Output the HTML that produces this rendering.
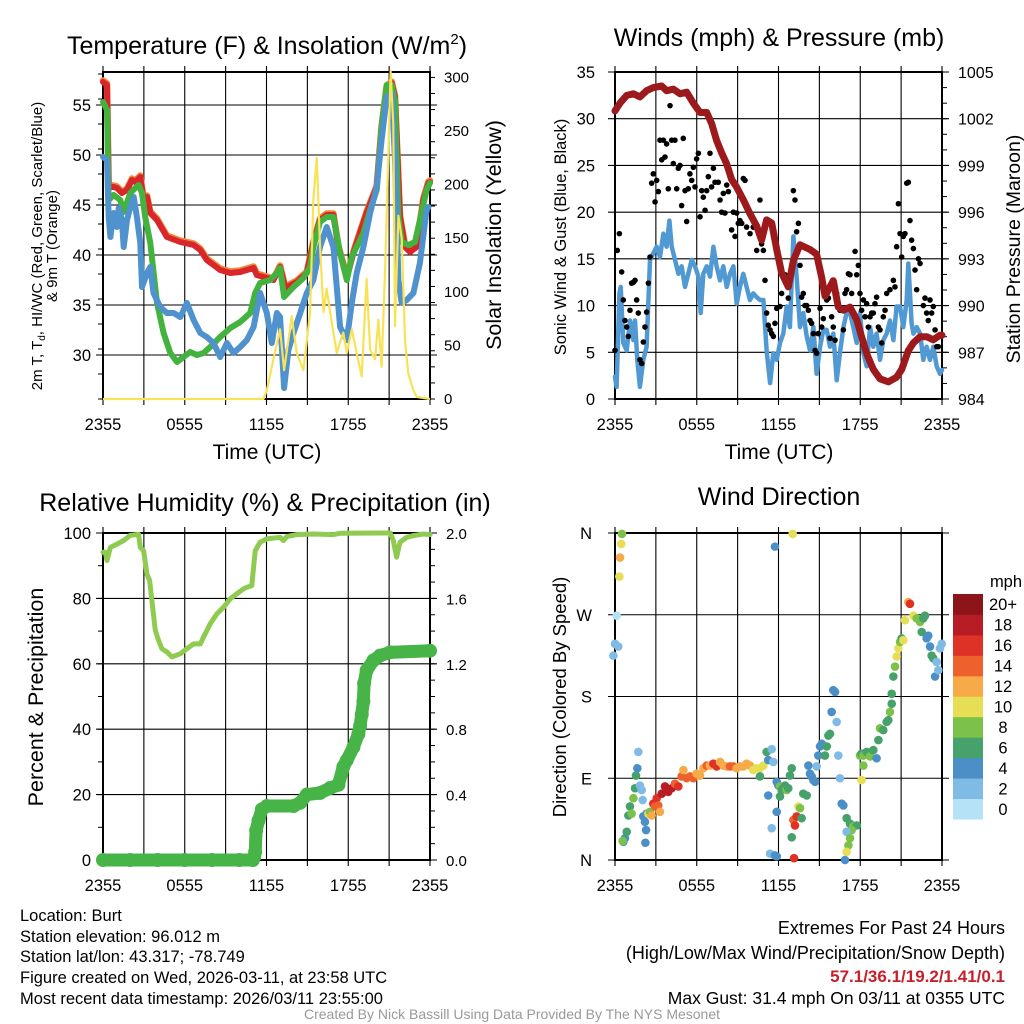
<!DOCTYPE html>
<html><head><meta charset="utf-8"><style>
html,body{margin:0;padding:0;background:#fff;}
svg{display:block;font-family:"Liberation Sans",Arial,sans-serif;}
</style></head><body>
<svg id="chart" width="1024" height="1024" viewBox="0 0 1024 1024" xmlns="http://www.w3.org/2000/svg">
<rect width="1024" height="1024" fill="#fff"/>
<g id="p1"></g>
<g id="p2"></g>
<g id="p3"></g>
<g id="p4"></g>
<text x="267" y="54" font-size="25" text-anchor="middle">Temperature (F) &amp; Insolation (W/m<tspan font-size="15" dy="-10">2</tspan><tspan dy="10">)</tspan></text>
<text x="779" y="46" font-size="25" text-anchor="middle">Winds (mph) &amp; Pressure (mb)</text>
<text x="265" y="511" font-size="25" text-anchor="middle">Relative Humidity (%) &amp; Precipitation (in)</text>
<text x="779" y="505" font-size="25" text-anchor="middle">Wind Direction</text>
<text x="267" y="459" font-size="21" text-anchor="middle">Time (UTC)</text>
<text x="779" y="459" font-size="21" text-anchor="middle">Time (UTC)</text>
<text transform="translate(42,246) rotate(-90)" font-size="15" text-anchor="middle">2m T, T<tspan font-size="10" dy="3">d</tspan><tspan dy="-3">, HI/WC (Red, Green, Scarlet/Blue)</tspan></text>
<text transform="translate(57,246) rotate(-90)" font-size="15" text-anchor="middle">&amp; 9m T (Orange)</text>
<text transform="translate(501,235) rotate(-90)" font-size="21.5" text-anchor="middle">Solar Insolation (Yellow)</text>
<text transform="translate(566,237) rotate(-90)" font-size="16.5" text-anchor="middle">Sonic Wind &amp; Gust (Blue, Black)</text>
<text transform="translate(1020,249) rotate(-90)" font-size="19.5" text-anchor="middle">Station Pressure (Maroon)</text>
<text transform="translate(43,697) rotate(-90)" font-size="21.5" text-anchor="middle">Percent &amp; Precipitation</text>
<text transform="translate(566,697) rotate(-90)" font-size="18.5" text-anchor="middle">Direction (Colored By Speed)</text>
<g font-size="16.5">
<text x="20" y="921">Location: Burt</text>
<text x="20" y="942">Station elevation: 96.012 m</text>
<text x="20" y="962">Station lat/lon: 43.317; -78.749</text>
<text x="20" y="983">Figure created on Wed, 2026-03-11, at 23:58 UTC</text>
<text x="20" y="1004">Most recent data timestamp: 2026/03/11 23:55:00</text>
</g>
<g font-size="18" text-anchor="end">
<text x="1005" y="934">Extremes For Past 24 Hours</text>
<text x="1005" y="959">(High/Low/Max Wind/Precipitation/Snow Depth)</text>
<text x="1005" y="982" fill="#c8202a" font-weight="bold" font-size="17">57.1/36.1/19.2/1.41/0.1</text>
<text x="1005" y="1004" font-size="17.5">Max Gust: 31.4 mph On 03/11 at 0355 UTC</text>
</g>
<text x="512" y="1019" font-size="14" fill="#999" text-anchor="middle">Created By Nick Bassill Using Data Provided By The NYS Mesonet</text>
</svg>
<script>
// ===== data =====
const xTickLabels=["2355","0555","1155","1755","2355"];
const tempTicks=[30,35,40,45,50,55];
const solarTicks=[0,50,100,150,200,250,300];
const windTicks=[0,5,10,15,20,25,30,35];
const presTicks=[984,987,990,993,996,999,1002,1005];
const rhTicks=[0,20,40,60,80,100];
const precipTicks=["0.0","0.4","0.8","1.2","1.6","2.0"];
const dirTicks=["N","E","S","W","N"];
const speedBins=["0","2","4","6","8","10","12","14","16","18","20+"];

const tempT=[0,0.29,0.42,0.78,1.03,1.39,1.76,2.13,2.37,2.74,2.98,3.23,3.47,3.96,4.69,5.67,6.65,7.14,7.62,8.6,9.34,10.07,11.05,11.29,12.02,12.51,13.0,13.37,14.22,14.96,15.44,15.93,16.42,16.91,17.28,17.89,18.38,19.35,20.09,20.45,20.82,21.19,21.43,21.8,22.17,22.53,23.02,23.51,23.88,24];
const tempV=[57.3,57.0,46.8,46.8,46.7,46.2,46.5,47.5,47.3,47.8,45.5,45.8,44.2,43.5,41.8,41.3,41.0,40.5,39.5,38.5,38.2,38.3,38.7,38.0,37.7,37.5,38.8,36.7,37.3,38.2,41.2,43.5,44.0,44.0,40.8,37.7,40.2,44.2,46.8,52.8,56.8,57.2,55.8,43.8,40.8,40.3,40.8,45.5,47.2,47.3];
const wcT=[0,0.29,0.42,0.78,1.27,1.52,2.0,2.37,2.61,2.86,3.1,3.47,3.96,4.45,4.94,5.43,5.91,6.4,6.89,7.38,7.87,8.6,9.34,10.07,10.8,11.17,11.53,12.27,12.76,13.0,13.29,13.98,14.71,15.2,15.44,15.93,16.42,16.91,17.4,17.89,18.26,19.11,19.6,20.09,20.45,20.82,21.19,21.43,21.68,21.92,22.41,22.9,23.26,23.75,24];
const wcV=[55.3,54.5,45.5,46.0,45.5,44.3,46.2,46.7,47.0,46.2,43.8,41.2,35.2,32.2,30.2,29.3,29.8,30.3,30.0,30.2,30.8,31.8,32.7,33.3,34.2,36.2,37.2,37.5,38.2,38.7,35.8,36.8,37.7,38.8,40.8,43.3,43.8,43.8,40.2,37.5,39.8,42.2,44.5,46.5,52.8,57.0,57.0,55.5,43.8,41.3,41.0,41.3,43.5,46.5,47.2];
const dewT=[0,0.29,0.42,0.54,0.78,1.03,1.15,1.39,1.52,1.76,2.0,2.25,2.49,2.74,2.86,3.23,3.47,3.71,4.2,4.69,5.18,5.67,6.16,6.65,7.14,7.62,8.11,8.6,9.09,9.58,10.07,10.56,11.05,11.53,12.02,12.39,12.76,13.0,13.29,13.61,13.98,14.47,14.96,15.44,15.93,16.42,16.91,17.4,17.89,18.26,18.62,19.11,19.6,20.09,20.45,20.82,21.19,21.43,21.68,21.92,22.29,22.78,23.26,23.75,23.88];
const dewV=[49.8,49.5,43.8,41.8,44.2,42.8,44.7,43.5,40.8,43.5,44.8,45.8,43.8,41.2,36.8,38.2,38.8,36.2,34.8,34.2,34.2,33.8,35.2,33.5,32.2,31.8,31.2,29.8,31.2,30.2,30.8,31.5,32.8,36.2,34.2,31.2,34.2,33.8,26.7,30.5,32.2,34.2,36.2,37.5,40.8,42.8,40.8,32.8,31.5,35.2,38.2,40.8,44.2,46.8,51.5,55.8,56.2,49.5,37.5,35.2,35.5,36.2,39.2,44.5,44.8];
const solarT=[0,11.78,12.02,12.51,13.0,13.29,13.61,13.86,14.22,14.71,15.2,15.44,15.69,15.93,16.18,16.42,16.67,16.91,17.16,17.4,17.64,17.89,18.26,18.62,18.99,19.35,19.6,19.97,20.21,20.45,20.7,20.94,21.11,21.31,21.43,21.68,21.92,22.17,22.41,22.78,23.02,24];
const solarV=[0,0,8,37,65,27,55,77,43,27,81,187,225,143,81,103,81,62,43,53,62,43,65,43,21,112,46,37,74,30,118,225,306,256,68,171,150,53,24,8,2,0];

const presT=[0,0.37,0.86,1.35,1.83,2.32,2.81,3.43,3.79,4.28,4.77,5.26,5.75,6.24,6.73,7.09,7.46,7.83,8.2,8.56,8.93,9.42,9.91,10.4,10.76,11.13,11.5,11.87,12.23,12.72,13.09,13.58,14.31,14.8,15.17,15.41,15.78,16.02,16.39,16.76,17.25,17.74,18.1,18.47,18.96,19.45,20.06,20.67,21.04,21.53,21.9,22.39,22.87,23.36,23.85,24];
const presV=[1002.5,1003.0,1003.5,1003.6,1003.4,1003.8,1004.0,1004.1,1003.8,1003.9,1003.6,1003.7,1003.0,1002.4,1002.4,1001.7,1000.6,999.8,999.1,998.1,997.6,996.8,995.9,995.1,994.2,995.5,995.3,993.6,992.1,991.2,992.9,993.9,993.6,993.3,991.8,990.6,991.2,991.6,989.9,989.7,989.9,989.1,988.0,986.9,985.9,985.3,985.1,985.4,985.9,987.1,987.6,988.0,988.0,987.8,988.1,988.1];
const windT=[0,.12,.32,.42,.61,.86,1.1,1.35,1.47,1.64,1.83,2.08,2.32,2.57,2.81,3.06,3.3,3.55,3.79,3.99,4.16,4.4,4.65,4.89,5.14,5.38,5.63,5.87,6.12,6.29,6.48,6.73,6.97,7.22,7.46,7.71,7.95,8.2,8.44,8.69,8.93,9.17,9.42,9.66,9.91,10.15,10.4,10.64,10.89,11.13,11.38,11.62,11.87,12.11,12.35,12.6,12.84,13.09,13.33,13.58,13.82,14.07,14.31,14.56,14.8,15.05,15.29,15.54,15.78,16.02,16.27,16.51,16.76,17,17.25,17.49,17.74,17.98,18.23,18.47,18.72,18.96,19.2,19.45,19.69,19.94,20.18,20.43,20.67,20.92,21.16,21.41,21.53,21.65,21.77,21.9,22.14,22.39,22.63,22.87,23.12,23.36,23.61,23.85,24];
const windV=[2.4,1.3,11.3,12,6,5.2,8.4,6.3,8.4,4.2,1.3,4.2,5.6,14.9,15.6,16.3,15.2,17.7,16.3,19.1,16.3,14.9,13.4,14.2,12,13.4,14.9,14.2,13.1,9.2,13.4,14.2,13.1,16.3,14.2,12.7,14.2,12,13.4,14.2,10.2,12,13.4,12,10.6,11.3,10.9,10.6,10.6,5.2,1.7,4.9,4.2,6,7,9.9,7.7,17.4,13.1,7.7,9.2,6.7,5.2,7.7,2.7,5.6,7.4,7.4,5.6,7,2,4.9,7.7,9.2,9.2,7.7,6,9.2,4.9,3.5,7.7,5.6,7,4.2,6.3,7,8.4,6.3,9.9,9.9,7.7,10.6,14.5,11.3,8.1,7,7.7,7,4.2,5.6,4.2,5.6,3.5,2.7,3.1];
const gustT=[0,0.17,0.32,0.49,0.61,0.73,0.86,0.98,1.10,1.22,1.35,1.47,1.59,1.71,1.83,1.96,2.08,2.20,2.32,2.45,2.57,2.69,2.81,2.94,3.06,3.18,3.30,3.43,3.55,3.67,3.79,3.91,4.04,4.16,4.28,4.40,4.53,4.65,4.77,4.89,5.01,5.14,5.26,5.38,5.50,5.63,5.75,5.87,5.99,6.12,6.24,6.36,6.48,6.61,6.73,6.85,6.97,7.09,7.22,7.34,7.46,7.58,7.71,7.83,7.95,8.07,8.20,8.32,8.56,8.69,8.81,8.93,9.05,9.17,9.30,9.42,9.54,9.66,9.91,10.15,10.40,10.64,10.76,10.89,11.01,11.13,11.25,11.38,11.50,11.62,11.74,11.87,12.11,12.23,12.48,12.72,13.09,13.21,13.33,13.46,13.58,13.70,13.82,13.94,14.07,14.19,14.31,14.43,14.56,14.68,14.80,14.92,15.05,15.17,15.29,15.41,15.54,15.66,15.78,15.90,16.02,16.15,16.27,16.51,16.76,16.88,17.00,17.13,17.25,17.37,17.49,17.62,17.74,17.86,17.98,18.10,18.23,18.35,18.47,18.59,18.72,18.84,18.96,19.08,19.20,19.33,19.45,19.57,19.69,19.82,19.94,20.18,20.43,20.55,20.67,20.80,20.92,21.04,21.16,21.28,21.41,21.53,21.65,21.77,21.90,22.02,22.14,22.27,22.39,22.63,22.75,22.87,22.99,23.12,23.24,23.36,23.49,23.61,23.73];
const gustV=[5.2,15.9,17.7,13.6,10.6,8.4,7.7,6.7,9.5,12.4,12.5,12.7,10.6,9.2,4.2,3.8,6.1,7.7,9.3,12.4,15.2,23.1,24.1,21.1,23.4,22.2,27.7,25.6,27.7,25.9,27.3,22.5,31.4,27.7,25.2,27.7,22.5,24.7,25.0,20.7,27.9,22.3,19.0,22.5,24.1,23.4,24.8,22.7,25.7,26.3,19.5,22.3,21.6,20.2,22.3,23.8,26.3,22.7,24.7,23.2,27.5,23.2,21.3,20.0,22.0,19.9,22.9,22.2,18.1,20.0,17.4,19.9,18.8,19.1,18.8,23.6,23.4,18.4,17.7,18.4,15.9,21.3,16.6,15.9,12.7,9.2,7.9,7.4,7.0,6.7,8.1,9.7,9.9,11.3,13.3,10.8,22.3,21.3,17.9,18.8,14.3,10.9,11.3,10.0,10.0,9.5,8.4,8.1,7.0,5.2,4.9,7.0,9.7,7.7,8.6,11.3,10.6,10.8,6.5,8.8,7.7,6.3,11.3,9.5,7.4,11.3,11.7,13.4,13.3,11.3,9.2,15.8,13.3,14.3,11.3,9.5,10.6,8.8,10.2,7.7,8.8,9.2,9.2,10.2,10.9,7.7,7.4,6.0,8.8,9.5,11.3,11.7,12.7,12.0,16.3,20.9,17.7,15.2,17.4,17.7,23.1,23.2,19.1,17.0,16.1,13.8,11.7,15.0,14.5,10.0,10.8,9.2,8.4,10.6,9.2,9.9,7.4,5.6,5.6];

const rhT=[0,.17,.29,.54,1.03,1.52,2.0,2.61,2.74,2.98,3.23,3.42,3.59,3.84,4.08,4.33,4.69,5.06,5.67,6.16,6.65,7.14,7.38,7.87,8.36,8.85,9.34,9.82,10.31,10.56,10.92,11.17,11.53,12.02,13.0,13.25,13.49,14.22,15.44,16.91,17.4,20.33,21.07,21.31,21.55,21.8,22.29,22.78,23.51,24];
const rhV=[94.1,94.1,91.6,95.6,96.6,97.7,99.3,99.6,95.6,94.6,87.3,85.5,79.3,70.2,67.1,64.6,63.6,62.1,63.1,64.6,66.1,66.1,68.2,72.2,75.3,77.3,79.9,81.4,82.9,83.4,83.9,94.6,97.2,98.2,98.7,97.7,98.9,99.5,99.7,99.5,99.9,100,100,97.7,92.6,97.2,98.7,99.2,99.7,99.5];
const precipT=[0,2,4,6,8,10,11.0,11.1,11.17,11.24,11.41,11.66,12.02,13.98,14.47,14.96,15.93,16.67,17.28,17.64,17.89,18.38,18.74,18.87,18.99,19.11,19.16,19.35,19.84,20.33,21.07,24];
const precipV=[0,0,0,0,0,0,0,0.02,0.05,0.18,0.24,0.31,0.33,0.33,0.35,0.40,0.41,0.44,0.46,0.57,0.61,0.69,0.77,0.82,0.89,0.97,1.08,1.16,1.22,1.25,1.27,1.28];

const dirT=[-0.12,0,0.24,0.12,0.32,0.37,0.46,0.51,0.61,0.73,0.86,0.56,0.98,1.10,1.22,1.35,1.47,1.54,1.64,1.71,1.83,1.96,2.03,2.08,2.20,2.28,2.23,2.32,2.45,2.57,2.69,2.81,2.94,3.06,3.18,3.30,3.43,3.67,3.91,4.16,4.40,4.65,4.89,5.02,5.26,5.50,5.75,5.99,6.24,6.48,6.73,6.97,7.22,7.46,7.71,7.95,8.20,8.44,8.69,8.93,9.17,9.42,9.66,9.91,10.15,10.40,10.64,10.89,10.64,11.13,11.25,11.50,11.62,11.87,11.99,12.11,12.23,12.35,12.48,12.60,12.72,12.84,12.97,12.11,11.25,11.87,11.50,11.38,11.74,11.87,13.09,13.33,13.46,13.58,13.70,12.97,13.21,13.14,13.82,14.07,14.19,14.31,14.43,14.56,14.68,14.80,14.92,15.05,15.17,15.41,15.54,15.66,15.78,16.02,16.15,15.90,16.27,16.39,16.51,16.64,16.76,17.00,17.25,17.49,17.74,17.37,17.00,17.25,17.13,17.00,16.88,18.10,18.23,17.98,18.10,18.23,18.47,18.72,18.96,19.20,19.33,19.45,19.69,19.94,20.06,20.18,20.31,20.31,20.43,20.55,20.67,20.80,20.92,21.04,21.16,21.28,21.53,21.65,21.90,22.14,22.39,22.63,22.75,22.51,22.87,22.99,23.12,23.24,23.36,23.49,23.61,23.73,23.85,23.98,11.74,13.04];
const dirV=[225,238,235,269,312,333,348,359,20,24,31,21,49,59,51,68,79,93,101,119,82,77,66,48,42,33,19,51,51,53,49,62,59,68,60,53,73,81,75,79,84,81,92,99,90,92,90,95,93,101,104,104,106,103,108,104,103,103,103,101,103,103,106,104,99,101,101,104,92,119,110,122,108,86,82,81,77,79,82,77,79,93,101,70,71,53,35,7,5,4,44,48,59,57,46,25,38,2,73,71,104,95,92,88,86,103,115,125,128,115,125,137,139,187,185,163,152,115,90,62,60,46,40,37,38,33,31,24,16,9,0,88,104,115,117,115,119,114,121,112,132,145,143,152,154,163,172,183,202,213,224,233,240,244,242,264,284,282,269,266,262,266,269,251,244,247,235,225,222,202,218,209,233,238,345,359];
const dirS=[3,3,3,1,10,12,10,8,5,4,6,8,6,6,8,8,6,7,4,3,2,3,2,4,4,4,4,4,10,8,12,16,15,17,14,12,18,18,19,18,15,17,14,12,14,14,15,13,12,13,14,12,17,16,13,12,13,14,15,12,12,12,12,12,10,10,10,10,7,6,4,3,2,4,4,8,7,7,7,8,7,6,6,6,4,4,2,3,4,4,15,17,10,8,6,6,16,17,6,6,4,4,4,4,4,3,4,4,5,6,6,6,6,4,4,4,3,3,3,4,4,6,6,8,7,8,2,8,9,10,4,10,9,8,6,8,6,8,6,4,6,8,6,6,6,8,6,6,6,8,10,10,8,6,10,10,13,16,10,8,8,6,6,6,4,4,4,6,6,4,2,2,2,2,4,10];
const binColors=["#b5e2f6","#7fbbe4","#4b8fc6","#46a16b","#7cc14a","#e6df56","#f6aa48","#ee612c","#de3227","#b81c25","#8d1519"];

// ===== helpers =====
const NS="http://www.w3.org/2000/svg";
function mk(parent,tag,attrs,text){const e=document.createElementNS(NS,tag);for(const k in attrs)e.setAttribute(k,attrs[k]);if(text!==undefined)e.textContent=text;parent.appendChild(e);return e;}
function linScale(d0,d1,r0,r1){return v=>r0+(v-d0)*(r1-r0)/(d1-d0);}
function pathD(ts,vs,sx,sy){return ts.map((t,i)=>(i?"L":"M")+sx(t).toFixed(1)+","+sy(vs[i]).toFixed(1)).join("");}

function frame(g,L,R,T,B,yMajors,name){
  for(let h=0;h<=24;h+=3){const x=L+(R-L)*h/24;const gl=mk(g,"line",{x1:x,x2:x,y1:T-6,y2:B+6,stroke:"#000","stroke-width":1.1});}
  yMajors.forEach(y=>{const gl=mk(g,"line",{x1:L-7,x2:R+7,y1:y,y2:y,stroke:"#000","stroke-width":1.1});});
  const fr=mk(g,"rect",{x:L,y:T,width:R-L,height:B-T,fill:"none",stroke:"#000","stroke-width":2});
  
  
  xTickLabels.forEach((lab,i)=>{const t=mk(g,"text",{x:L+(R-L)*i/4,y:B+31,"font-size":16.5,"text-anchor":"middle"},lab);});
}
function minorTicks(g,x,y0,y1,step,dir){for(let y=y0;y>=y1-0.1;y-=step){mk(g,"line",{x1:x,x2:x+dir*5,y1:y,y2:y,stroke:"#000","stroke-width":1});}}

// ===== panel 1 =====
(function(){
  const g=document.getElementById("p1");
  const L=103,R=430,T=72,B=399;
  const sx=linScale(0,24,L,R), sy=linScale(30,55,355,105), ss=linScale(0,305,399,72);
  frame(g,L,R,T,B,tempTicks.map(sy),"temperature");
  minorTicks(g,L,B,T,25,-1);
  minorTicks(g,R,B,T,8.04*2,1);
  tempTicks.forEach(v=>{const t=mk(g,"text",{x:L-12,y:sy(v)+6,"font-size":16.5,"text-anchor":"end"},String(v));});
  solarTicks.forEach(v=>{const t=mk(g,"text",{x:R+14,y:ss(v)+5,"font-size":15,"text-anchor":"start"},String(v));});
  let p=mk(g,"path",{d:pathD(tempT,tempV.map(v=>v+0.15),sx,sy),fill:"none",stroke:"#f08a3c","stroke-width":6.5,"stroke-linejoin":"round","stroke-linecap":"round"});
  
  p=mk(g,"path",{d:pathD(tempT,tempV,sx,sy),fill:"none",stroke:"#d9262a","stroke-width":6,"stroke-linejoin":"round","stroke-linecap":"round"});
  
  p=mk(g,"path",{d:pathD(wcT,wcV,sx,sy),fill:"none",stroke:"#44b23f","stroke-width":6,"stroke-linejoin":"round","stroke-linecap":"round"});
  
  p=mk(g,"path",{d:pathD(dewT,dewV,sx,sy),fill:"none",stroke:"#4f92cd","stroke-width":6,"stroke-linejoin":"round","stroke-linecap":"round"});
  
  p=mk(g,"path",{d:pathD(solarT,solarV,sx,ss),fill:"none",stroke:"#f8e256","stroke-width":2.2,"stroke-linejoin":"round"});
  
})();

// ===== panel 2 =====
(function(){
  const g=document.getElementById("p2");
  const L=615,R=942,T=72,B=399;
  const sx=linScale(0,24,L,R), sy=linScale(0,35,B,T), sp=linScale(984,1005,B,T);
  frame(g,L,R,T,B,windTicks.map(sy),"wind");
  minorTicks(g,R,B,T,15.57,1);
  windTicks.forEach(v=>{const t=mk(g,"text",{x:L-20,y:sy(v)+6,"font-size":16.5,"text-anchor":"end"},String(v));});
  presTicks.forEach(v=>{const t=mk(g,"text",{x:R+16,y:sp(v)+6,"font-size":16,"text-anchor":"start"},String(v));});
  let p=mk(g,"path",{d:pathD(windT,windV,sx,sy),fill:"none",stroke:"#5199d2","stroke-width":4.5,"stroke-linejoin":"round","stroke-linecap":"round"});
  
  gustT.forEach((t,i)=>{const c=mk(g,"circle",{cx:sx(t),cy:sy(gustV[i]),r:2.8,fill:"#000"});
    
    });
  p=mk(g,"path",{d:pathD(presT,presV,sx,sp),fill:"none",stroke:"#9c1a1c","stroke-width":7,"stroke-linejoin":"round","stroke-linecap":"round"});
  
})();

// ===== panel 3 =====
(function(){
  const g=document.getElementById("p3");
  const L=103,R=430,T=533,B=860;
  const sx=linScale(0,24,L,R), sy=linScale(0,100,B,T), sq=linScale(0,2,B,T);
  frame(g,L,R,T,B,rhTicks.map(sy),"humidity");
  minorTicks(g,L,B,T,32.7,-1);
  minorTicks(g,R,B,T,16.35,1);
  rhTicks.forEach(v=>{const t=mk(g,"text",{x:L-12,y:sy(v)+6,"font-size":16.5,"text-anchor":"end"},String(v));});
  precipTicks.forEach((lab,i)=>{const t=mk(g,"text",{x:R+16,y:sq(parseFloat(lab))+6,"font-size":15,"text-anchor":"start"},lab);});
  let p=mk(g,"path",{d:pathD(rhT,rhV,sx,sy),fill:"none",stroke:"#8fcb50","stroke-width":5,"stroke-linejoin":"round","stroke-linecap":"round"});
  
  p=mk(g,"path",{d:pathD(precipT,precipV,sx,sq),fill:"none",stroke:"#47b447","stroke-width":13,"stroke-linejoin":"round","stroke-linecap":"round"});
  
  precipT.forEach((t,i)=>{const c=mk(g,"circle",{cx:sx(t),cy:sq(precipV[i]),r:7,fill:"#47b447"});
    
    });
})();

// ===== panel 4 =====
(function(){
  const g=document.getElementById("p4");
  const L=615,R=942,T=533,B=860;
  const sx=linScale(0,24,L,R), sy=linScale(0,360,B,T);
  frame(g,L,R,T,B,[0,90,180,270,360].map(sy),"direction");
  dirTicks.forEach((lab,i)=>{const t=mk(g,"text",{x:L-23,y:sy(i*90)+6,"font-size":16.5,"text-anchor":"end"},lab);});
  dirT.forEach((t,i)=>{const b=Math.min(10,Math.floor(dirS[i]/2));const c=mk(g,"circle",{cx:sx(t),cy:sy(dirV[i]),r:4.3,fill:binColors[b]});
    
    });
  const cbT=594,cbH=225/11;
  speedBins.forEach((lab,i)=>{const y=cbT+(10-i)*cbH;
    const r=mk(g,"rect",{x:953,y:y,width:30,height:cbH+0.5,fill:binColors[i]});
    
    
    const t=mk(g,"text",{x:1003,y:y+cbH/2+6,"font-size":16.5,"text-anchor":"middle"},lab);
    
    });
  const u=mk(g,"text",{x:1006,y:587,"font-size":16.5,"text-anchor":"middle"},"mph");
  
  
})();
</script>
</body></html>
